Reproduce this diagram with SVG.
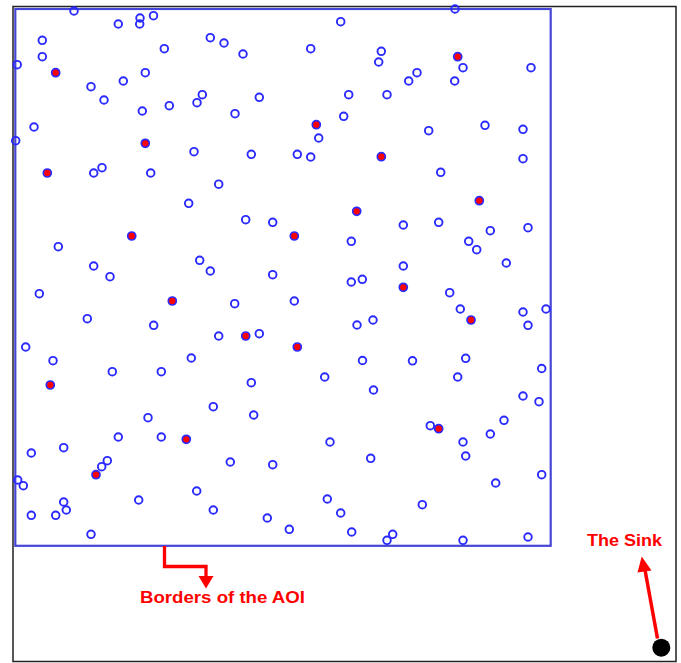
<svg xmlns="http://www.w3.org/2000/svg" width="681" height="663" viewBox="0 0 681 663">
<style>
.n{fill:none;stroke:#2a2aff;stroke-width:1.9}
.c{fill:#ff0000;stroke:#2a2aff;stroke-width:1.7}
.lbl{font-family:"Liberation Sans",Arial,sans-serif;font-weight:bold;font-size:16.5px;fill:#ff0000}
</style>
<rect x="0" y="0" width="681" height="663" fill="#ffffff"/>
<rect id="frame" x="13" y="6.5" width="663" height="655" fill="none" stroke="#222" stroke-width="1.5"/>
<rect id="aoi" x="15.3" y="9" width="535.4" height="536.8" fill="none" stroke="#4646d6" stroke-width="2.2"/>
<g id="nodes">
<circle class="n" cx="74" cy="11" r="3.8"/><circle class="n" cx="455" cy="9" r="3.8"/>
<circle class="n" cx="140" cy="18" r="3.8"/><circle class="n" cx="153.5" cy="15.7" r="3.8"/><circle class="n" cx="118.3" cy="24" r="3.8"/><circle class="n" cx="139.7" cy="24" r="3.8"/><circle class="n" cx="340.7" cy="21.7" r="3.8"/>
<circle class="n" cx="42.3" cy="40.3" r="3.8"/><circle class="n" cx="210.3" cy="37.7" r="3.8"/><circle class="n" cx="224" cy="43" r="3.8"/><circle class="n" cx="164.3" cy="48.7" r="3.8"/><circle class="n" cx="310.7" cy="48.7" r="3.8"/><circle class="n" cx="381.3" cy="51.3" r="3.8"/>
<circle class="n" cx="42.3" cy="56.7" r="3.8"/><circle class="n" cx="243" cy="54" r="3.8"/><circle class="n" cx="378.7" cy="62" r="3.8"/>
<circle class="n" cx="17.2" cy="64.7" r="3.8"/><circle class="n" cx="145.3" cy="72.7" r="3.8"/><circle class="n" cx="417" cy="72.7" r="3.8"/><circle class="n" cx="463" cy="67.7" r="3.8"/><circle class="n" cx="531" cy="67.7" r="3.8"/>
<circle class="n" cx="123.3" cy="81" r="3.8"/><circle class="n" cx="408.7" cy="81" r="3.8"/><circle class="n" cx="454.7" cy="81" r="3.8"/><circle class="n" cx="91" cy="86.7" r="3.8"/>
<circle class="n" cx="202.3" cy="94.7" r="3.8"/><circle class="n" cx="348.7" cy="94.7" r="3.8"/><circle class="n" cx="387" cy="94.7" r="3.8"/><circle class="n" cx="259.3" cy="97.3" r="3.8"/>
<circle class="n" cx="104" cy="100" r="3.8"/><circle class="n" cx="197" cy="102.7" r="3.8"/><circle class="n" cx="169.3" cy="105.7" r="3.8"/><circle class="n" cx="142.3" cy="111" r="3.8"/><circle class="n" cx="235" cy="113.7" r="3.8"/><circle class="n" cx="343.7" cy="116.3" r="3.8"/>
<circle class="n" cx="485" cy="125.3" r="3.8"/><circle class="n" cx="34" cy="127" r="3.8"/><circle class="n" cx="523" cy="129.3" r="3.8"/><circle class="n" cx="428.7" cy="130.7" r="3.8"/>
<circle class="n" cx="318.7" cy="138" r="3.8"/><circle class="n" cx="15.7" cy="140.7" r="3.8"/>
<circle class="n" cx="194" cy="151.7" r="3.8"/><circle class="n" cx="251.3" cy="154.3" r="3.8"/><circle class="n" cx="297.3" cy="154.3" r="3.8"/><circle class="n" cx="310.7" cy="157" r="3.8"/><circle class="n" cx="523" cy="158.7" r="3.8"/>
<circle class="n" cx="93.7" cy="173" r="3.8"/><circle class="n" cx="102" cy="167.7" r="3.8"/><circle class="n" cx="150.7" cy="173" r="3.8"/><circle class="n" cx="440.7" cy="172.3" r="3.8"/>
<circle class="n" cx="218.7" cy="184.2" r="3.8"/><circle class="n" cx="188.7" cy="203.3" r="3.8"/>
<circle class="n" cx="245.7" cy="219.7" r="3.8"/><circle class="n" cx="272.7" cy="222.3" r="3.8"/><circle class="n" cx="403.3" cy="225" r="3.8"/><circle class="n" cx="438.7" cy="222.3" r="3.8"/><circle class="n" cx="528" cy="227.7" r="3.8"/><circle class="n" cx="490.3" cy="230.7" r="3.8"/>
<circle class="n" cx="351.3" cy="241.3" r="3.8"/><circle class="n" cx="468.7" cy="241.3" r="3.8"/><circle class="n" cx="476.7" cy="249.7" r="3.8"/>
<circle class="n" cx="58.3" cy="246.7" r="3.8"/><circle class="n" cx="199.7" cy="260.3" r="3.8"/><circle class="n" cx="210.3" cy="271" r="3.8"/><circle class="n" cx="93.7" cy="266" r="3.8"/><circle class="n" cx="403.3" cy="266" r="3.8"/><circle class="n" cx="506.3" cy="263" r="3.8"/>
<circle class="n" cx="110" cy="276.7" r="3.8"/><circle class="n" cx="272.7" cy="274.7" r="3.8"/><circle class="n" cx="351.3" cy="282" r="3.8"/><circle class="n" cx="362.3" cy="279.3" r="3.8"/>
<circle class="n" cx="39.3" cy="293.7" r="3.8"/><circle class="n" cx="294.3" cy="301" r="3.8"/><circle class="n" cx="234.7" cy="303.7" r="3.8"/><circle class="n" cx="449.7" cy="292.7" r="3.8"/><circle class="n" cx="460.3" cy="309" r="3.8"/><circle class="n" cx="546" cy="309" r="3.8"/><circle class="n" cx="523" cy="312" r="3.8"/>
<circle class="n" cx="87.3" cy="318.7" r="3.8"/><circle class="n" cx="153.7" cy="325.3" r="3.8"/><circle class="n" cx="357" cy="325" r="3.8"/><circle class="n" cx="373" cy="320" r="3.8"/><circle class="n" cx="528" cy="325.3" r="3.8"/>
<circle class="n" cx="218.7" cy="336" r="3.8"/><circle class="n" cx="259.3" cy="333.7" r="3.8"/><circle class="n" cx="25.7" cy="347" r="3.8"/>
<circle class="n" cx="53" cy="360.7" r="3.8"/><circle class="n" cx="191.3" cy="358" r="3.8"/><circle class="n" cx="362.5" cy="360.5" r="3.8"/><circle class="n" cx="412.5" cy="360.8" r="3.8"/><circle class="n" cx="465.7" cy="358.3" r="3.8"/><circle class="n" cx="541.7" cy="368.5" r="3.8"/>
<circle class="n" cx="112.3" cy="371.7" r="3.8"/><circle class="n" cx="161.3" cy="371.7" r="3.8"/><circle class="n" cx="324.7" cy="377" r="3.8"/><circle class="n" cx="457.7" cy="377" r="3.8"/>
<circle class="n" cx="251.3" cy="382.7" r="3.8"/><circle class="n" cx="373.5" cy="390" r="3.8"/><circle class="n" cx="523" cy="396" r="3.8"/><circle class="n" cx="539" cy="401.7" r="3.8"/>
<circle class="n" cx="213.3" cy="406.7" r="3.8"/><circle class="n" cx="253.7" cy="415" r="3.8"/><circle class="n" cx="148" cy="417.7" r="3.8"/><circle class="n" cx="504" cy="420.3" r="3.8"/><circle class="n" cx="430.3" cy="425.7" r="3.8"/>
<circle class="n" cx="118.3" cy="437" r="3.8"/><circle class="n" cx="161.3" cy="437" r="3.8"/><circle class="n" cx="330" cy="442" r="3.8"/><circle class="n" cx="463" cy="442" r="3.8"/><circle class="n" cx="490.3" cy="434" r="3.8"/>
<circle class="n" cx="31.3" cy="453" r="3.8"/><circle class="n" cx="63.7" cy="447.7" r="3.8"/><circle class="n" cx="107.3" cy="460.7" r="3.8"/><circle class="n" cx="101.7" cy="466.7" r="3.8"/><circle class="n" cx="230.3" cy="462" r="3.8"/><circle class="n" cx="272.7" cy="464.7" r="3.8"/><circle class="n" cx="370.7" cy="458.3" r="3.8"/><circle class="n" cx="465.7" cy="456" r="3.8"/>
<circle class="n" cx="17.7" cy="480" r="3.8"/><circle class="n" cx="23.3" cy="485.7" r="3.8"/><circle class="n" cx="541.7" cy="474.7" r="3.8"/><circle class="n" cx="495.7" cy="483" r="3.8"/>
<circle class="n" cx="196.7" cy="491" r="3.8"/><circle class="n" cx="138.7" cy="500" r="3.8"/><circle class="n" cx="63.7" cy="502" r="3.8"/><circle class="n" cx="327.3" cy="499" r="3.8"/><circle class="n" cx="422.3" cy="504.7" r="3.8"/>
<circle class="n" cx="66.3" cy="510" r="3.8"/><circle class="n" cx="213.3" cy="510" r="3.8"/><circle class="n" cx="340.7" cy="513" r="3.8"/><circle class="n" cx="31.3" cy="515.3" r="3.8"/><circle class="n" cx="55.7" cy="515.3" r="3.8"/><circle class="n" cx="267.3" cy="518" r="3.8"/>
<circle class="n" cx="289.3" cy="529.3" r="3.8"/><circle class="n" cx="351.7" cy="532" r="3.8"/><circle class="n" cx="91" cy="534.3" r="3.8"/><circle class="n" cx="392.7" cy="534.3" r="3.8"/><circle class="n" cx="387" cy="540.3" r="3.8"/><circle class="n" cx="463" cy="540.3" r="3.8"/><circle class="n" cx="528" cy="537" r="3.8"/>
</g>
<g id="cluster-heads">
<circle class="c" cx="55.7" cy="72.7" r="4"/><circle class="c" cx="457.7" cy="56.7" r="4"/><circle class="c" cx="316.3" cy="124.7" r="4"/><circle class="c" cx="145.3" cy="143.3" r="4"/><circle class="c" cx="381.3" cy="156.7" r="4"/><circle class="c" cx="47.3" cy="173" r="4"/>
<circle class="c" cx="479.3" cy="200.7" r="4"/><circle class="c" cx="356.7" cy="211.3" r="4"/><circle class="c" cx="131.7" cy="236" r="4"/><circle class="c" cx="294.3" cy="236" r="4"/><circle class="c" cx="403.3" cy="287.3" r="4"/><circle class="c" cx="172.3" cy="301" r="4"/>
<circle class="c" cx="471" cy="320" r="4"/><circle class="c" cx="245.7" cy="336" r="4"/><circle class="c" cx="297.3" cy="347" r="4"/><circle class="c" cx="50.3" cy="385" r="4"/><circle class="c" cx="438.7" cy="428.7" r="4"/><circle class="c" cx="186.3" cy="439.3" r="4"/><circle class="c" cx="96" cy="474.7" r="4"/>
</g>
<g id="sink">
<circle cx="661.3" cy="647.7" r="9" fill="#000"/>
</g>
<g id="connectors">
<path d="M164.5 546 V566.5 H206 V577" fill="none" stroke="#ff0000" stroke-width="3.3"/>
<polygon points="198.5,576 213.5,576 206,588.5" fill="#ff0000"/>
<line x1="657.5" y1="638.5" x2="645.2" y2="571" stroke="#ff0000" stroke-width="3.5"/>
<polygon points="641.7,556.5 637.5,572.5 651.5,570.5" fill="#ff0000"/>
</g>
<text class="lbl" x="140" y="603" textLength="165" lengthAdjust="spacingAndGlyphs">Borders of the AOI</text>
<text class="lbl" x="587" y="546" textLength="75" lengthAdjust="spacingAndGlyphs">The Sink</text>
</svg>
